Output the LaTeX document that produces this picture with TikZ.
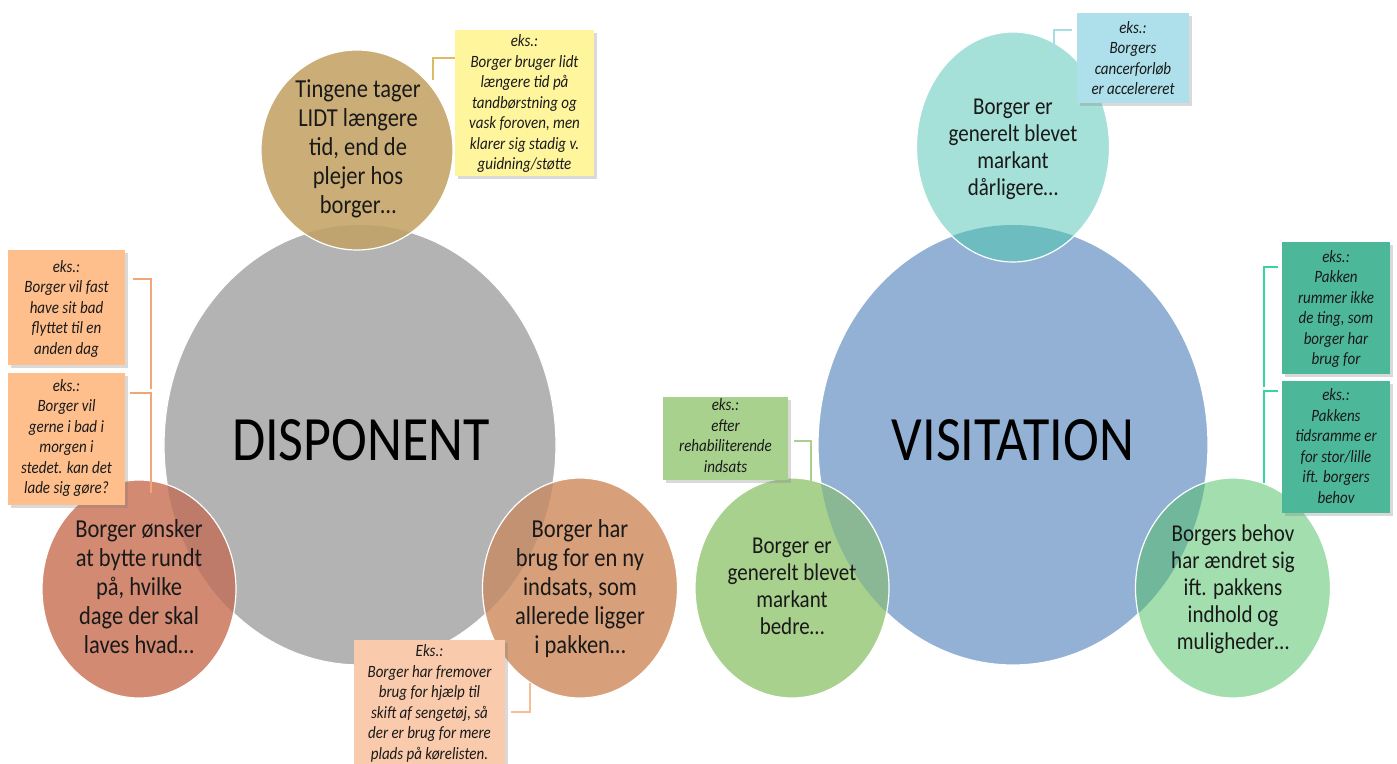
\documentclass[tikz,border=0pt]{standalone}
\usepackage{fontspec}
\setmainfont{Carlito}
\usepackage{graphicx}
\usetikzlibrary{shapes.geometric,shadows}
\definecolor{grayc}{HTML}{B3B3B3}
\definecolor{bluec}{HTML}{92B1D5}
\definecolor{tanc}{HTML}{CBAE77}
\definecolor{tanov}{HTML}{C0A46F}
\definecolor{redc}{HTML}{D38A72}
\definecolor{redov}{HTML}{BE7B69}
\definecolor{orc}{HTML}{D7A07A}
\definecolor{orov}{HTML}{C39272}
\definecolor{tealc}{HTML}{A6E1D9}
\definecolor{tealov}{HTML}{6CBCC0}
\definecolor{grc}{HTML}{A9D18E}
\definecolor{grov}{HTML}{8AB894}
\definecolor{lgc}{HTML}{A3DEAE}
\definecolor{lgov}{HTML}{70B79B}
\definecolor{ybox}{HTML}{FFF59D}
\definecolor{obox}{HTML}{FFBF8C}
\definecolor{sbox}{HTML}{F9CBAC}
\definecolor{lbbox}{HTML}{ADE0EB}
\definecolor{tbox}{HTML}{4DB899}
\definecolor{gbox}{HTML}{A9D18E}
\definecolor{ybr}{HTML}{DDBB66}
\definecolor{obr}{HTML}{F2A577}
\definecolor{sbr}{HTML}{F7BE96}
\definecolor{lbbr}{HTML}{A8DDE8}
\definecolor{tbr}{HTML}{33D6A0}
\definecolor{gbr}{HTML}{A9D18E}
\newcommand\vtext[2]{\scalebox{1}[#1]{\begin{tabular}{@{}c@{}}#2\end{tabular}}}
\begin{document}
\begin{tikzpicture}[x=1pt,y=-1pt,
  bigc/.style={ellipse, inner sep=0pt, draw=white, line width=1.2pt},
  smallc/.style={ellipse, inner sep=0pt, draw=white, line width=1.2pt},
  ctext/.style={inner sep=0pt, font=\fontsize{22.5}{25.2}\selectfont, text=black!90},
  ctextb/.style={inner sep=0pt, font=\fontsize{21}{23.5}\selectfont, text=black!90},
  bigtext/.style={inner sep=0pt, font=\fontsize{54}{60}\selectfont, text=black},
  cbox/.style={inner sep=0pt, drop shadow={shadow xshift=2.5pt, shadow yshift=-2.5pt, opacity=0.3}},
  btext/.style={inner sep=0pt, font=\fontsize{15}{17.8}\selectfont\itshape, text=black!90},
  bracket/.style={line width=1.8pt}
]
\useasboundingbox (0,0) rectangle (1397,763);

% big circles
\node[bigc, fill=grayc, minimum width=392, minimum height=440] (disp) at (360,445) {};
\node[bigc, fill=bluec, minimum width=390, minimum height=440] (visi) at (1013,445) {};

% small circles
\node[smallc, fill=tanc, minimum width=192, minimum height=200,
  path picture={\fill[tanov] (disp.center) ellipse [x radius=196, y radius=220];}] (tan) at (357,150) {};
\node[smallc, fill=redc, minimum width=194, minimum height=218,
  path picture={\fill[redov] (disp.center) ellipse [x radius=196, y radius=220];}] (red) at (139,589) {};
\node[smallc, fill=orc, minimum width=195, minimum height=220,
  path picture={\fill[orov] (disp.center) ellipse [x radius=196, y radius=220];}] (ora) at (580,588) {};
\node[smallc, fill=tealc, minimum width=193, minimum height=230,
  path picture={\fill[tealov] (visi.center) ellipse [x radius=195, y radius=220];}] (teal) at (1013,147) {};
\node[smallc, fill=grc, minimum width=194, minimum height=220,
  path picture={\fill[grov] (visi.center) ellipse [x radius=195, y radius=220];}] (gre) at (792,588) {};
\node[smallc, fill=lgc, minimum width=195, minimum height=220,
  path picture={\fill[lgov] (visi.center) ellipse [x radius=195, y radius=220];}] (lgr) at (1233,588) {};

% big labels
\node[bigtext] (disptxt) at (361,440) {\scalebox{1}[1.17]{DISPONENT}};
\node[bigtext] (visitxt) at (1013,440) {\scalebox{1}[1.17]{VISITATION}};

% circle texts
\node[ctext] (tantxt) at (358,150) {\vtext{1.15}{Tingene tager\\LIDT længere\\tid, end de\\plejer hos\\borger…}};
\node[ctext] (redtxt) at (139,590) {\vtext{1.15}{Borger ønsker\\at bytte rundt\\på, hvilke\\dage der skal\\laves hvad…}};
\node[ctext] (oratxt) at (580,590) {\vtext{1.15}{Borger har\\brug for en ny\\indsats, som\\allerede ligger\\i pakken…}};
\node[ctextb] (tealtxt) at (1013,150) {\vtext{1.15}{Borger er\\generelt blevet\\markant\\dårligere…}};
\node[ctextb] (gretxt) at (792,589) {\vtext{1.15}{Borger er\\generelt blevet\\markant\\bedre…}};
\node[ctextb] (lgrtxt) at (1233,590) {\vtext{1.15}{Borgers behov\\har ændret sig\\ift. pakkens\\indhold og\\muligheder…}};

% bracket coordinates
\coordinate (b1s) at (433,80);  \coordinate (b1e) at (455,58);
\coordinate (b2s) at (151,389); \coordinate (b2e) at (133,279);
\coordinate (b3s) at (151,493); \coordinate (b3e) at (130,393);
\coordinate (b4s) at (530,683); \coordinate (b4e) at (511,712);
\coordinate (b5s) at (1054,55); \coordinate (b5e) at (1072,30);
\coordinate (b6s) at (1264,387); \coordinate (b6e) at (1278,267);
\coordinate (b7s) at (1264,483); \coordinate (b7e) at (1278,391);
\coordinate (b8s) at (811,483); \coordinate (b8e) at (794,441);

% bracket shadows
\begin{scope}[shift={(2.5,3)}, black, opacity=0.12, line width=2.5pt]
\draw (b1s) |- (b1e); \draw (b2s) |- (b2e); \draw (b3s) |- (b3e);
\draw (b4s) |- (b4e); \draw (b5s) |- (b5e); \draw (b6s) |- (b6e);
\draw (b7s) |- (b7e); \draw (b8s) |- (b8e);
\end{scope}
% brackets
\draw[bracket, ybr] (b1s) |- (b1e);
\draw[bracket, obr] (b2s) |- (b2e);
\draw[bracket, obr] (b3s) |- (b3e);
\draw[bracket, sbr] (b4s) |- (b4e);
\draw[bracket, lbbr] (b5s) |- (b5e);
\draw[bracket, tbr] (b6s) |- (b6e);
\draw[bracket, tbr] (b7s) |- (b7e);
\draw[bracket, gbr] (b8s) |- (b8e);

% callout boxes
\node[cbox, fill=ybox, minimum width=139, minimum height=146] (yb) at (524.5,103) {};
\node[btext] (ybt) at (524.5,104) {\vtext{1.15}{eks.:\\Borger bruger lidt\\længere tid på\\tandbørstning og\\vask foroven, men\\klarer sig stadig v.\\guidning/støtte}};

\node[cbox, fill=obox, minimum width=117, minimum height=115] (ob1) at (66.5,307.5) {};
\node[btext] (ob1t) at (66.5,309) {\vtext{1.15}{eks.:\\Borger vil fast\\have sit bad\\flyttet til en\\anden dag}};

\node[cbox, fill=obox, minimum width=117, minimum height=132] (ob2) at (66.5,439) {};
\node[btext] (ob2t) at (66.5,438.5) {\vtext{1.15}{eks.:\\Borger vil\\gerne i bad i\\morgen i\\stedet. kan det\\lade sig gøre?}};

\node[cbox, fill=sbox, minimum width=151, minimum height=135] (sb) at (429.5,707.5) {};
\node[btext] (sbt) at (429.5,704) {\vtext{1.15}{Eks.:\\Borger har fremover\\brug for hjælp til\\skift af sengetøj, så\\der er brug for mere\\plads på kørelisten.}};

\node[cbox, fill=lbbox, minimum width=112, minimum height=90] (lbb) at (1133,58) {};
\node[btext] (lbbt) at (1133,60) {\vtext{1.15}{eks.:\\Borgers\\cancerforløb\\er accelereret}};

\node[cbox, fill=tbox, minimum width=108, minimum height=132] (tb1) at (1336,308) {};
\node[btext] (tb1t) at (1336,309.5) {\vtext{1.15}{eks.:\\Pakken\\rummer ikke\\de ting, som\\borger har\\brug for}};

\node[cbox, fill=tbox, minimum width=108, minimum height=132] (tb2) at (1336,447) {};
\node[btext] (tb2t) at (1336,448) {\vtext{1.15}{eks.:\\Pakkens\\tidsramme er\\for stor/lille\\ift. borgers\\behov}};

\node[cbox, fill=gbox, minimum width=125, minimum height=83] (gb) at (725.5,438.5) {};
\node[btext] (gbt) at (725.5,437.5) {\vtext{1.15}{eks.:\\efter\\rehabiliterende\\indsats}};
\end{tikzpicture}
\end{document}
